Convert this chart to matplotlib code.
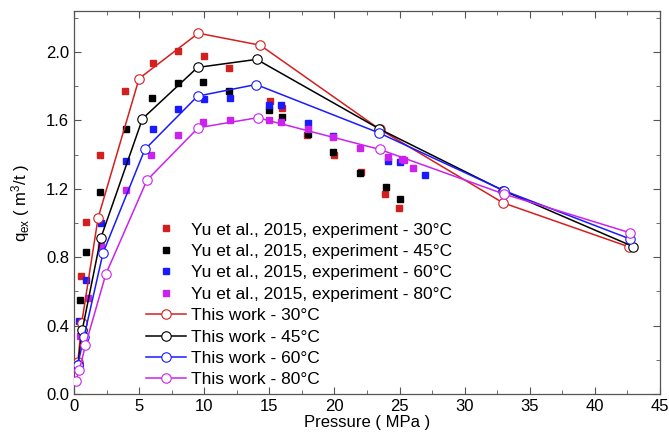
import numpy as np
import matplotlib
matplotlib.use('Agg')
import matplotlib.pyplot as plt
from matplotlib.ticker import MultipleLocator

plt.rcParams['font.family'] = ['Liberation Sans', 'DejaVu Sans']
plt.rcParams['mathtext.fontset'] = 'custom'
plt.rcParams['mathtext.rm'] = 'Liberation Sans'
plt.rcParams['mathtext.it'] = 'Liberation Sans'

# Yu et al., 2015 experimental data (pressure MPa, q_ex m3/t)
exp_labels = ['Yu et al., 2015, experiment - 30°C', 'Yu et al., 2015, experiment - 45°C',
              'Yu et al., 2015, experiment - 60°C', 'Yu et al., 2015, experiment - 80°C']
p_exp_30 = [0.52, 0.9, 1.98, 3.95, 6.03, 8.0, 10.0, 11.92, 15.05, 16.0, 17.92, 20.0, 22.05, 23.9, 24.98]
q_exp_30 = [0.689, 1.005, 1.395, 1.772, 1.934, 2.006, 1.977, 1.909, 1.713, 1.674, 1.512, 1.395, 1.30, 1.167, 1.089]
p_exp_45 = [0.44, 0.9, 1.98, 3.98, 5.98, 7.95, 9.92, 11.92, 14.98, 16.0, 18.0, 19.92, 21.98, 23.98, 25.05]
q_exp_45 = [0.552, 0.831, 1.183, 1.551, 1.731, 1.821, 1.827, 1.772, 1.66, 1.622, 1.518, 1.415, 1.294, 1.21, 1.138]
p_exp_60 = [0.38, 0.95, 2.05, 3.98, 6.03, 8.0, 9.95, 11.98, 15.0, 15.9, 18.0, 19.9, 24.08, 25.05, 26.98]
q_exp_60 = [0.425, 0.669, 1.0, 1.362, 1.551, 1.669, 1.723, 1.731, 1.69, 1.69, 1.587, 1.51, 1.362, 1.356, 1.278]
p_exp_80 = [0.44, 1.08, 2.05, 3.98, 5.9, 7.95, 9.88, 11.98, 14.98, 15.9, 18.0, 19.92, 21.98, 24.08, 25.18, 25.36, 26.03]
q_exp_80 = [0.341, 0.562, 0.864, 1.192, 1.395, 1.512, 1.59, 1.602, 1.602, 1.592, 1.551, 1.502, 1.44, 1.388, 1.372, 1.366, 1.323]

# This work (model)
mod_labels = ['This work - 30°C', 'This work - 45°C', 'This work - 60°C', 'This work - 80°C']
p_mod_30 = [0.3, 0.59, 1.85, 5.0, 9.55, 14.3, 23.5, 32.95, 42.6]
q_mod_30 = [0.19, 0.415, 1.03, 1.845, 2.11, 2.04, 1.547, 1.118, 0.861]
p_mod_45 = [0.3, 0.64, 2.05, 5.26, 9.49, 14.03, 23.46, 32.95, 42.95]
q_mod_45 = [0.17, 0.376, 0.91, 1.61, 1.91, 1.957, 1.55, 1.19, 0.862]
p_mod_60 = [0.28, 0.77, 2.23, 5.44, 9.49, 13.98, 23.4, 33.0, 42.7]
q_mod_60 = [0.17, 0.334, 0.825, 1.43, 1.742, 1.81, 1.528, 1.19, 0.907]
p_mod_80 = [0.15, 0.41, 0.88, 2.44, 5.6, 9.54, 14.1, 23.5, 33.0, 42.7]
q_mod_80 = [0.078, 0.14, 0.285, 0.70, 1.25, 1.557, 1.616, 1.43, 1.17, 0.943]

colors = ['#d41f1f', '#000000', '#1a1aff', '#cc22ee']

fig = plt.figure(figsize=(6.69, 4.36), dpi=100)
ax = fig.add_axes([0.1106, 0.0963, 0.8759, 0.8785])

exp_p = [p_exp_30, p_exp_45, p_exp_60, p_exp_80]
exp_q = [q_exp_30, q_exp_45, q_exp_60, q_exp_80]
mod_p = [p_mod_30, p_mod_45, p_mod_60, p_mod_80]
mod_q = [q_mod_30, q_mod_45, q_mod_60, q_mod_80]

for p, q, c, lab in zip(exp_p, exp_q, colors, exp_labels):
    ax.plot(p, q, 's', color=c, ms=5, mec=c, label=lab, zorder=2)

for p, q, c, lab in zip(mod_p, mod_q, colors, mod_labels):
    ax.plot(p, q, '-o', color=c, lw=1.1, ms=6.8, mfc='white', mec=c, mew=0.8,
            label=lab, zorder=3)

ax.set_xlim(0, 45)
ax.set_ylim(0, 2.24)
ax.xaxis.set_major_locator(MultipleLocator(5))
ax.xaxis.set_minor_locator(MultipleLocator(2.5))
ax.yaxis.set_major_locator(MultipleLocator(0.4))
ax.yaxis.set_minor_locator(MultipleLocator(0.2))
ax.yaxis.set_major_formatter(matplotlib.ticker.FormatStrFormatter('%.1f'))
ax.tick_params(which='both', direction='in', top=True, right=True, labelsize=12,
               color='#555555')
ax.tick_params(which='major', length=5)
ax.tick_params(which='minor', length=3)
for s in ax.spines.values():
    s.set_color('#555555')
    s.set_linewidth(0.9)

ax.set_xlabel('Pressure ( MPa )', fontsize=12, labelpad=1)
ax.set_ylabel(r'q$_{\rm ex}$ ( m$^{3}$/t )', fontsize=12, labelpad=10)

# legend sits low in the plot, below the data near x = 2-25 MPa
ax.legend(loc='upper left', bbox_to_anchor=(0.123, 0.448), frameon=False, fontsize=12.5,
          handlelength=2.3, handletextpad=0.3, labelspacing=0.36, borderpad=0,
          borderaxespad=0)

fig.savefig('out.png', dpi=100)
